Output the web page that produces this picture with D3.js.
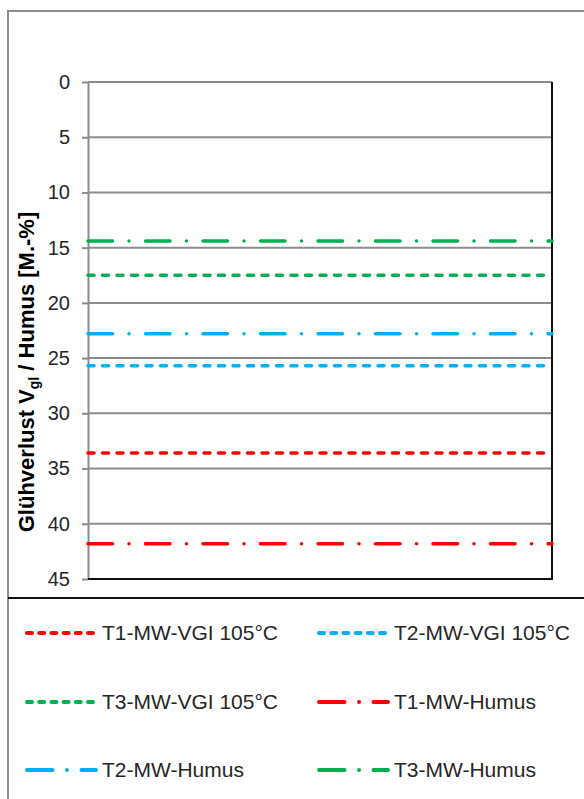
<!DOCTYPE html>
<html>
<head>
<meta charset="utf-8">
<script src="https://cdn.jsdelivr.net/npm/d3@7"></script>
<style>
	html, body { margin: 0; padding: 0; background: #fff; }
	svg { display: block; font-family: "Liberation Sans", Arial, sans-serif; }
</style>
</head>
<body>
<div id="canvas"></div>
<script>
// chart values
var seriesNames = [ 'T1-MW-VGI 105°C', 'T2-MW-VGI 105°C', 'T3-MW-VGI 105°C', 'T1-MW-Humus', 'T2-MW-Humus', 'T3-MW-Humus' ],
	seriesValues = [ 33.6, 25.7, 17.5, 41.8, 22.8, 14.4 ],
	seriesColors = [ '#ff0000', '#00b0f0', '#00b050', '#ff0000', '#00b0f0', '#00b050' ],
	seriesStyles = [ 'dash', 'dash', 'dash', 'dashdot', 'dashdot', 'dashdot' ],
	yTicks = [ 0, 5, 10, 15, 20, 25, 30, 35, 40, 45 ];

document.addEventListener('DOMContentLoaded', function(e) {

	var width = 584,
		height = 799,
		plot = { left: 88, right: 552, top: 82, bottom: 579 },
		dashes = { dash: '6,8.5', dashdot: '24.5,16.5,0,16.5' },
		legendDashes = { dash: '5,7.2', dashdot: '25.5,14.5,0,14.5' },
		svg = d3.select('#canvas').append('svg')
			.attr('width', width)
			.attr('height', height);

	var y = d3.scaleLinear().domain([0, 45]).range([plot.top, plot.bottom]),
		x = d3.scaleLinear().domain([0, 1]).range([plot.left, plot.right]);

	// outer frame
	svg.append('path')
		.attr('d', 'M8,' + height + 'V11H' + width)
		.attr('fill', 'none')
		.attr('stroke', '#8c8c8c')
		.attr('stroke-width', 2);

	// gridlines
	svg.append('g')
		.selectAll('line')
		.data(yTicks.slice(0, -1))
		.enter()
		.append('line')
		.attr('x1', plot.left)
		.attr('x2', plot.right)
		.attr('y1', function(d) { return y(d); })
		.attr('y2', function(d) { return y(d); })
		.attr('stroke', '#8c8c8c')
		.attr('stroke-width', 2);

	// y axis
	var axis = svg.append('g')
		.attr('transform', 'translate(' + plot.left + ',0)')
		.call(d3.axisLeft(y).tickValues(yTicks).tickSize(6).tickPadding(12).tickSizeOuter(0));
	axis.select('.domain').attr('stroke', '#8c8c8c').attr('stroke-width', 2);
	axis.selectAll('.tick line').attr('stroke', '#8c8c8c').attr('stroke-width', 2);
	axis.selectAll('.tick text')
		.attr('font-size', 20)
		.attr('font-family', '"Liberation Sans", Arial, sans-serif')
		.attr('fill', '#262626');

	// right and bottom border
	svg.append('path')
		.attr('d', 'M' + plot.right + ',' + plot.top + 'V' + plot.bottom + 'H' + plot.left)
		.attr('fill', 'none')
		.attr('stroke', '#111')
		.attr('stroke-width', 2);

	// series
	var line = d3.line()
		.x(function(d) { return x(d[0]); })
		.y(function(d) { return y(d[1]); });

	svg.append('g')
		.selectAll('path')
		.data(seriesValues)
		.enter()
		.append('path')
		.attr('d', function(d) { return line([[0, d], [1, d]]); })
		.attr('fill', 'none')
		.attr('stroke', function(d, i) { return seriesColors[i]; })
		.attr('stroke-width', 3.5)
		.attr('stroke-linecap', 'round')
		.attr('stroke-dasharray', function(d, i) { return dashes[seriesStyles[i]]; });

	// axis title
	var title = svg.append('text')
		.attr('transform', 'translate(34,372) rotate(-90)')
		.attr('text-anchor', 'middle')
		.attr('font-size', 22)
		.attr('font-weight', 'bold')
		.attr('fill', '#000');
	title.append('tspan').text('Glühverlust V');
	title.append('tspan').attr('font-size', 14).attr('dy', 5).text('gl');
	title.append('tspan').attr('dy', -5).text(' / Humus [M.-%]');

	// legend separator
	svg.append('line')
		.attr('x1', 8).attr('x2', width)
		.attr('y1', 598).attr('y2', 598)
		.attr('stroke', '#111')
		.attr('stroke-width', 2);

	// legend
	var colX = [ 27, 319 ],
		rowY = [ 633, 702, 770 ];
	var items = svg.append('g')
		.selectAll('g')
		.data(seriesNames)
		.enter()
		.append('g')
		.attr('transform', function(d, i) {
			return 'translate(' + colX[i % 2] + ',' + rowY[Math.floor(i / 2)] + ')';
		});
	items.append('line')
		.attr('x1', 0).attr('x2', 69)
		.attr('y1', 0).attr('y2', 0)
		.attr('stroke', function(d, i) { return seriesColors[i]; })
		.attr('stroke-width', 4)
		.attr('stroke-linecap', 'round')
		.attr('stroke-dasharray', function(d, i) { return legendDashes[seriesStyles[i]]; });
	items.append('text')
		.attr('x', 75)
		.attr('y', 7)
		.attr('font-size', 21)
		.attr('fill', '#262626')
		.text(function(d) { return d; });
});
</script>
</body>
</html>
